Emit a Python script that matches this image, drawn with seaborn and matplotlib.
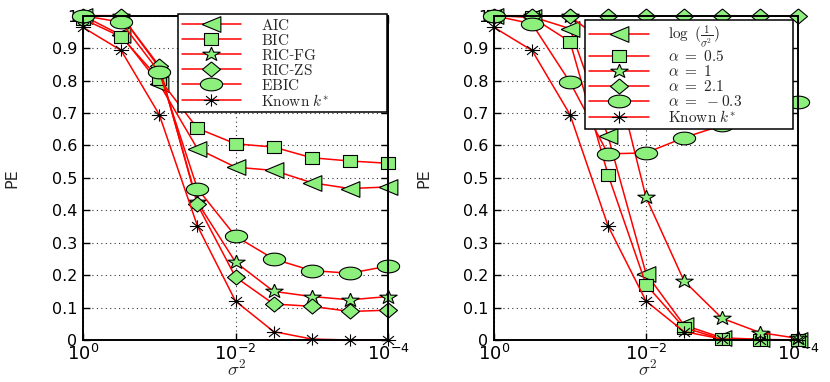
import numpy as np
import matplotlib
matplotlib.use("Agg")
import matplotlib.pyplot as plt
import seaborn as sns
from matplotlib.path import Path
from matplotlib.ticker import FixedLocator, FuncFormatter, NullLocator, LogFormatterSciNotation
from matplotlib.font_manager import FontProperties

# ---------------- data ----------------
sigma2 = [1.0, 10**-0.5, 1e-1, 10**-1.5, 1e-2, 10**-2.5, 1e-3, 10**-3.5, 1e-4]

left_labels = [r"$\mathrm{AIC}$", r"$\mathrm{BIC}$", r"$\mathrm{RIC}$-$\mathrm{FG}$",
               r"$\mathrm{RIC}$-$\mathrm{ZS}$", r"$\mathrm{EBIC}$", r"$\mathrm{Known}\ k^{*}$"]
aic    = [1.00, 0.94, 0.79, 0.59, 0.533, 0.523, 0.485, 0.467, 0.472]
bic    = [0.99, 0.935, 0.805, 0.653, 0.605, 0.595, 0.562, 0.552, 0.545]
ric_fg = [1.00, 1.00, 0.84, 0.425, 0.24, 0.15, 0.134, 0.124, 0.134]
ric_zs = [1.00, 1.00, 0.845, 0.418, 0.194, 0.111, 0.104, 0.088, 0.092]
ebic   = [1.00, 0.98, 0.826, 0.467, 0.32, 0.25, 0.214, 0.206, 0.228]
known  = [0.964, 0.893, 0.695, 0.352, 0.12, 0.026, 0.003, 0.0, 0.0]

right_labels = [r"$\log\ (\frac{1}{\sigma^2})$", r"$\alpha\ =\ 0.5$", r"$\alpha\ =\ 1$",
                r"$\alpha\ =\ 2.1$", r"$\alpha\ =\ -0.3$", r"$\mathrm{Known}\ k^{*}$"]
log_inv  = [1.00, 0.997, 0.96, 0.628, 0.205, 0.046, 0.007, 0.002, 0.0]
alpha_05 = [1.00, 0.995, 0.92, 0.51, 0.171, 0.038, 0.003, 0.001, 0.0]
alpha_1  = [1.00, 1.00, 0.998, 0.91, 0.44, 0.182, 0.067, 0.023, 0.005]
alpha_21 = [1.00, 1.00, 1.00, 1.00, 1.00, 1.00, 1.00, 1.00, 1.00]
alpha_m03 = [1.00, 0.975, 0.795, 0.574, 0.577, 0.624, 0.662, 0.70, 0.733]

yticks = [0, 0.1, 0.2, 0.3, 0.4, 0.5, 0.6, 0.7, 0.8, 0.9, 1.0]
xticks = [1, 1e-2, 1e-4]

# ---------------- markers (stretched like the source image) ----------------
def mk(verts, sx, codes=None):
    v = np.array(verts, float)
    v[:, 0] *= sx
    return Path(v, codes)

th = np.linspace(0, 2 * np.pi, 64)
circle = mk(np.c_[np.cos(th), np.sin(th)], 1.75)
tri_left = mk([(-1, 0), (1, 1), (1, -1), (-1, 0)], 1.2)
square = mk([(-1, -1), (1, -1), (1, 1), (-1, 1), (-1, -1)], 1.3)
diamond = mk([(0, 1), (1, 0), (0, -1), (-1, 0), (0, 1)], 1.2)
ang = np.pi / 2 + np.arange(10) * np.pi / 5
rad = np.where(np.arange(10) % 2 == 0, 1.0, 0.4)
star_v = np.c_[rad * np.cos(ang), rad * np.sin(ang)]
star = mk(np.vstack([star_v, star_v[:1]]), 1.25)
d = 0.72
ast = mk([(-1, 0), (1, 0), (0, -1), (0, 1), (-d, -d), (d, d), (-d, d), (d, -d)], 1.25,
         [Path.MOVETO, Path.LINETO] * 4)

GREEN = "#8DF07D"
marker_set = [(tri_left, 13.5), (square, 10.5), (star, 12.5), (diamond, 13), (circle, 16), (ast, 11)]

# ---------------- style ----------------
sns.set_style("ticks")
plt.rcParams["font.family"] = ["DejaVu Sans"]

fig = plt.figure(figsize=(8.3, 3.82), dpi=100)
axL = fig.add_axes([0.1, 0.1099, 0.3675, 0.849])
axR = fig.add_axes([0.5952, 0.1099, 0.3663, 0.849])

leg_prop = FontProperties(family="DejaVu Serif", size=11, math_fontfamily="cm")
ylab_prop = FontProperties(family="DejaVu Sans", size=11.5)
xlab_prop = FontProperties(family="DejaVu Sans", size=13.5, math_fontfamily="cm")


def draw(ax, series, labels, legbox, lspace):
    for vals, lab, (m, ms) in zip(series, labels, marker_set):
        kw = dict(marker=m, markersize=ms, markeredgecolor="black", markeredgewidth=0.8,
                  markerfacecolor=(GREEN if m is not ast else "none"))
        sns.lineplot(x=sigma2, y=vals, ax=ax, color="red", linewidth=1.1, label=lab,
                     legend=False, sort=False, clip_on=False, **kw)
    ax.set_xscale("log")
    ax.set_xlim(1, 1e-4)
    ax.set_ylim(0, 1)
    ax.xaxis.set_major_locator(FixedLocator(xticks))
    ax.xaxis.set_major_formatter(LogFormatterSciNotation())
    ax.xaxis.set_minor_locator(NullLocator())
    ax.yaxis.set_major_locator(FixedLocator(yticks))
    ax.yaxis.set_major_formatter(FuncFormatter(lambda v, p: "0" if v == 0 else ("1" if v == 1 else f"{v:.1f}")))
    ax.yaxis.set_minor_locator(NullLocator())
    ax.tick_params(direction="in", top=True, right=True, length=5, width=1, colors="black")
    ax.tick_params(axis="y", pad=4, labelsize=11.5)
    ax.tick_params(axis="x", pad=3, labelsize=13)
    ax.grid(True, linestyle=(0, (1, 3)), color="black", linewidth=0.8, alpha=0.8)
    for s in ax.spines.values():
        s.set_visible(True)
        s.set_linewidth(1.4)
        s.set_color("black")
    ax.set_ylabel("PE", fontproperties=ylab_prop)
    ax.yaxis.set_label_coords(-0.207, 0.5)
    ax.set_xlabel(r"$\sigma^2$", fontproperties=xlab_prop)
    ax.xaxis.set_label_coords(0.505, -0.062)
    ax.set_facecolor("white")
    leg = ax.legend(loc="upper left", bbox_to_anchor=legbox, mode="expand",
                    prop=leg_prop, frameon=True, fancybox=False, framealpha=1,
                    edgecolor="black", handlelength=3.9, handletextpad=1.3,
                    handleheight=0.6, labelspacing=lspace, borderpad=0.25, borderaxespad=0.0)
    leg.get_frame().set_linewidth(1.1)
    leg.set_zorder(10)


draw(axL, [aic, bic, ric_fg, ric_zs, ebic, known], left_labels, (0.311, 0.706, 0.686, 0.3), 0.0)
draw(axR, [log_inv, alpha_05, alpha_1, alpha_21, alpha_m03, known], right_labels,
     (0.30, 0.688, 0.684, 0.3), 0.0)

fig.savefig("out.png", dpi=100, facecolor="white")
